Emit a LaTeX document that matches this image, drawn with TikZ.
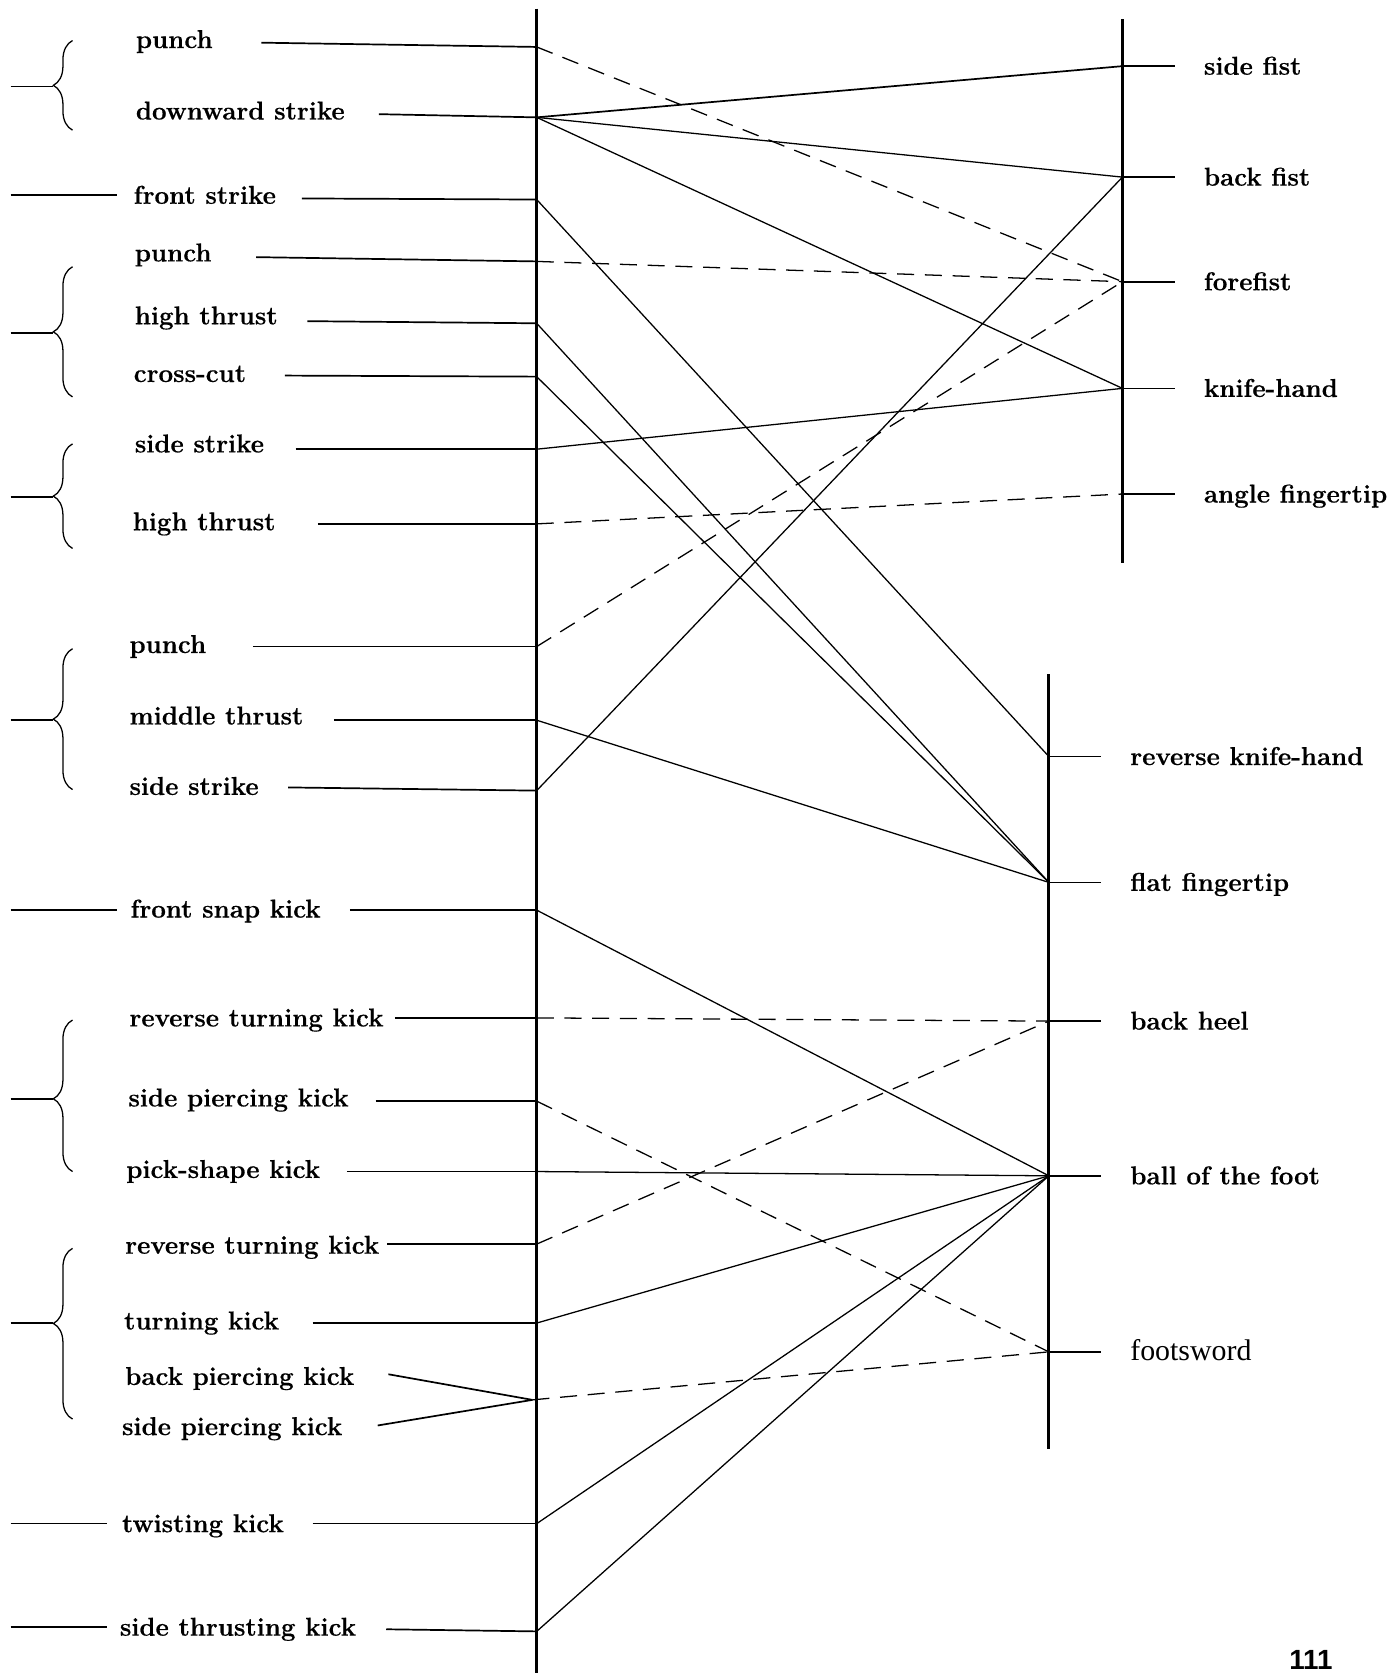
\documentclass[tikz,border=0pt]{standalone}
\usepackage{fontspec}
\setmainfont{Latin Modern Roman}[BoldFeatures={FakeBold=0.5}]
\newfontfamily\timesfont{Liberation Serif}
\newfontfamily\arialfont{Liberation Sans}
\usetikzlibrary{decorations.pathreplacing}
\newcommand\leftlab[8]{% name, x, y, text, startx, starty, mainx, mainy
  \node[lab] (#1) at (#2,#3+8) {#4};
  \coordinate (#1s) at (#5,#6);
  \coordinate (#1m) at (#7,#8);
  \draw[lline] (#1s) -- (#1m);}
\newcommand\rightlab[5]{% name, linex, y, text, font
  \coordinate (#1) at (#2,#3);
  \coordinate (#1t) at (#2+49,#3);
  \draw[lline] (#1) -- (#1t);
  \node[lab,#5] (#1l) at (#2+76,#3+8) {#4};}
\newcommand\leftbrace[4]{% name, top, bottom, aspect
  \coordinate (#1b) at (68,#3);
  \coordinate (#1a) at (68,#2);
  \draw[lbrace,decoration={aspect=#4}] (#1b) -- (#1a);}
\begin{document}
\begin{tikzpicture}[x=0.5pt,y=-0.5pt,
  lab/.style={anchor=base west,inner sep=0pt,font=\fontsize{12.1}{14}\selectfont\bfseries},
  lline/.style={line width=0.8pt},
  conn/.style={line width=0.6pt},
  dconn/.style={line width=0.6pt,dash pattern=on 8pt off 5pt},
  axisline/.style={line width=1.4pt},
  lbrace/.style={decorate,decoration={brace,amplitude=9pt},line width=0.6pt},
  tim/.style={font=\fontsize{14}{16}\selectfont\timesfont}]
\useasboundingbox (0,0) rectangle (1311,1568);

% axes
\coordinate (mtop) at (503,8);
\coordinate (mbot) at (503,1580);
\draw[axisline] (mtop) -- (mbot);
\coordinate (utop) at (1052,18);
\coordinate (ubot) at (1052,528);
\draw[axisline] (utop) -- (ubot);
\coordinate (ltop) at (983,632);
\coordinate (lbot) at (983,1358);
\draw[axisline] (ltop) -- (lbot);

% left labels
\leftlab{pa}{127}{37}{punch}{245}{40}{503}{44}
\leftlab{ds}{127}{104}{downward strike}{355}{107}{503}{110}
\leftlab{fs}{125}{183}{front strike}{283}{186}{503}{187}
\leftlab{pb}{126}{237}{punch}{240}{241}{503}{245}
\leftlab{hta}{126}{296}{high thrust}{288}{301}{503}{303}
\leftlab{cc}{125}{350}{cross-cut}{267}{352}{503}{353}
\leftlab{ssa}{126}{416}{side strike}{277}{421}{503}{421}
\leftlab{htb}{124}{489}{high thrust}{298}{491}{503}{491}
\leftlab{pc}{121}{604}{punch}{237}{606}{503}{606}
\leftlab{mt}{121}{671}{middle thrust}{313}{675}{503}{675}
\leftlab{ssb}{121}{737}{side strike}{270}{738}{503}{741}
\leftlab{fsk}{122}{852}{front snap kick}{328}{853}{503}{853}
\leftlab{rtka}{121}{954}{reverse turning kick}{370}{954}{503}{954}
\leftlab{spka}{120}{1029}{side piercing kick}{352}{1032}{503}{1032}
\leftlab{psk}{118}{1096}{pick-shape kick}{325}{1098}{503}{1098}
\leftlab{rtkb}{117}{1167}{reverse turning kick}{363}{1166}{503}{1166}
\leftlab{tk}{116}{1238}{turning kick}{293}{1240}{503}{1240}
\leftlab{bpk}{117}{1290}{back piercing kick}{364}{1288}{499}{1312}
\leftlab{spkb}{114}{1337}{side piercing kick}{354}{1336}{499}{1312}
\leftlab{tw}{114}{1428}{twisting kick}{293}{1428}{503}{1428}
\leftlab{stk}{112}{1525}{side thrusting kick}{362}{1527}{503}{1529}

% outer left lines
\coordinate (fso) at (10,183);  \coordinate (fsi) at (110,183);  \draw[lline] (fso) -- (fsi);
\coordinate (fsko) at (10,853); \coordinate (fski) at (110,853); \draw[lline] (fsko) -- (fski);
\coordinate (two) at (10,1428); \coordinate (twi) at (100,1428); \draw[lline] (two) -- (twi);
\coordinate (stko) at (10,1525);\coordinate (stki) at (100,1525);\draw[lline] (stko) -- (stki);

% braces
\leftbrace{ba}{38}{122}{0.5}
\coordinate (bao) at (10,81);  \coordinate (bai) at (50,81);  \draw[lline] (bao) -- (bai);
\leftbrace{bb}{250}{372}{0.5}
\coordinate (bbo) at (10,312); \coordinate (bbi) at (50,312); \draw[lline] (bbo) -- (bbi);
\leftbrace{bc}{416}{514}{0.5}
\coordinate (bco) at (10,466); \coordinate (bci) at (50,466); \draw[lline] (bco) -- (bci);
\leftbrace{bd}{608}{740}{0.5}
\coordinate (bdo) at (10,675); \coordinate (bdi) at (50,675); \draw[lline] (bdo) -- (bdi);
\leftbrace{be}{956}{1098}{0.48}
\coordinate (beo) at (10,1030); \coordinate (bei) at (50,1030); \draw[lline] (beo) -- (bei);
\leftbrace{bf}{1170}{1330}{0.56}
\coordinate (bfo) at (10,1240); \coordinate (bfi) at (50,1240); \draw[lline] (bfo) -- (bfi);

% right labels
\rightlab{sf}{1052}{62}{side fist}{}
\rightlab{bfi}{1052}{166}{back fist}{}
\rightlab{ff}{1052}{264}{forefist}{}
\rightlab{kh}{1052}{364}{knife-hand}{}
\rightlab{af}{1052}{463}{angle fingertip}{}
\rightlab{rkh}{983}{709}{reverse knife-hand}{}
\rightlab{flf}{983}{827}{flat fingertip}{}
\rightlab{bh}{983}{957}{back heel}{}
\rightlab{bof}{983}{1102}{ball of the foot}{}
\rightlab{fsw}{983}{1267}{footsword}{tim}

% connectors
\draw[dconn] (pam) -- (ff);
\draw[lline] (dsm) -- (sf);
\draw[conn] (dsm) -- (bfi);
\draw[conn] (dsm) -- (kh);
\draw[conn] (fsm) -- (rkh);
\draw[dconn] (pbm) -- (ff);
\draw[conn] (htam) -- (flf);
\draw[conn] (ccm) -- (flf);
\draw[conn] (ssam) -- (kh);
\draw[dconn] (htbm) -- (af);
\draw[dconn] (pcm) -- (ff);
\draw[conn] (mtm) -- (flf);
\draw[conn] (ssbm) -- (bfi);
\draw[conn] (fskm) -- (bof);
\draw[dconn] (rtkam) -- (bh);
\draw[dconn] (spkam) -- (fsw);
\draw[conn] (pskm) -- (bof);
\draw[dconn] (rtkbm) -- (bh);
\draw[conn] (tkm) -- (bof);
\draw[dconn] (bpkm) -- (fsw);
\draw[conn] (twm) -- (bof);
\draw[conn] (stkm) -- (bof);

% page number
\node[anchor=base west,inner sep=0pt,font=\fontsize{13}{15}\selectfont\arialfont\bfseries] (pg) at (1208,1565) {111};
\end{tikzpicture}
\end{document}
